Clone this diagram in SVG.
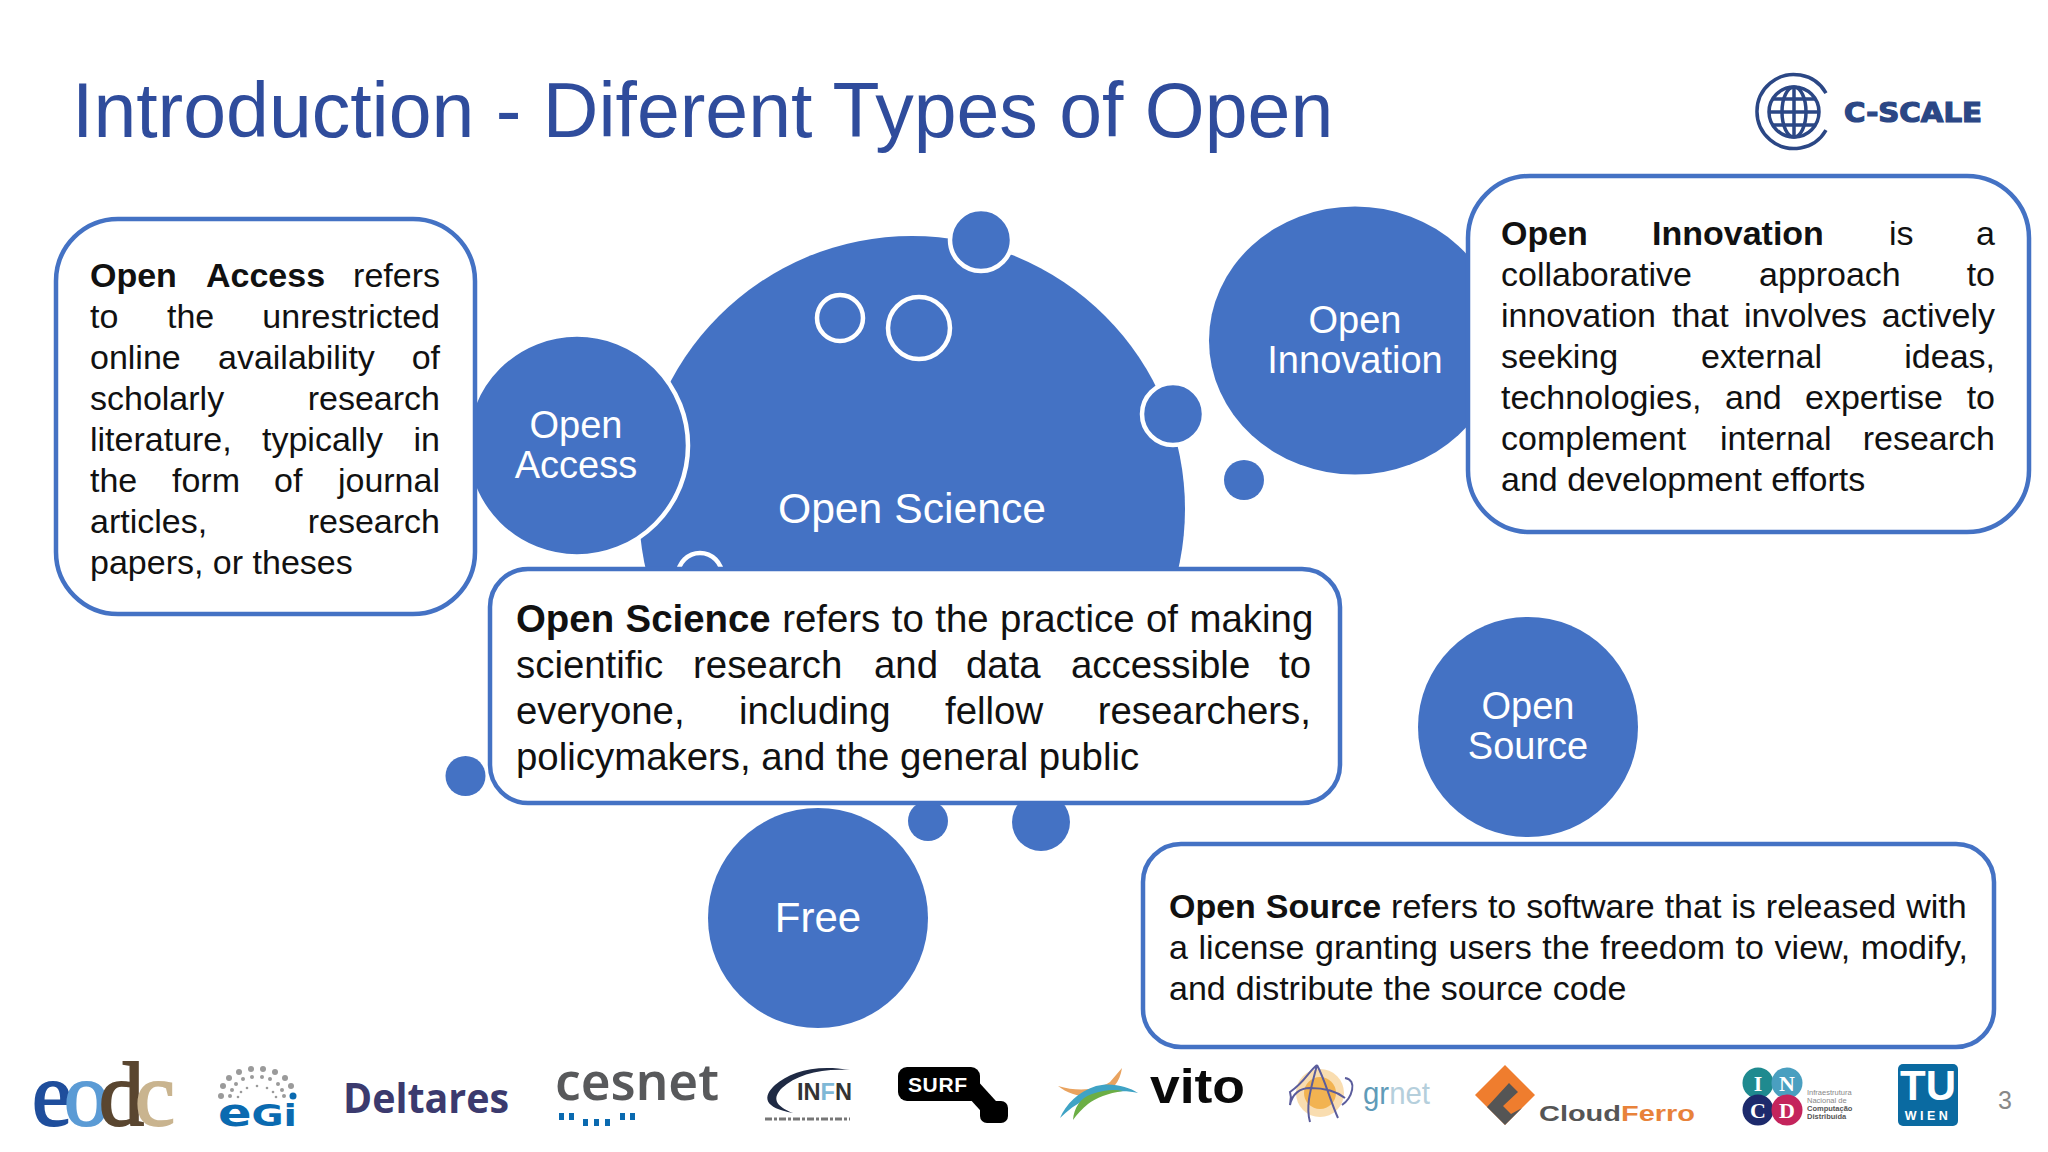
<svg xmlns="http://www.w3.org/2000/svg" width="2048" height="1152" viewBox="0 0 2048 1152">
<style>
text{font-family:"Liberation Sans",Arial,sans-serif}
.c{fill:#4472C4}
.w{fill:#4472C4;stroke:#fff;stroke-width:4.5}
.h{fill:none;stroke:#fff;stroke-width:4.5}
.b{fill:#fff;stroke:#4472C4;stroke-width:4.5}
.l{fill:#fff;text-anchor:middle}
.t32{font-size:34px;fill:#111}
.t38{font-size:38.4px;fill:#111}
.e{text-anchor:end}
.s{font-weight:700}
</style>
<rect width="2048" height="1152" fill="#fff"/>
<text x="72" y="136.500" font-size="77" fill="#2F4C9C" id="title">Introduction - Diferent Types of Open</text>
<g id="logo-cscale">
<path d="M1826 93A37 37 0 1 0 1826 130" fill="none" stroke="#2b4785" stroke-width="3.5"/>
<g fill="none" stroke="#2b4785" stroke-width="3.5"><circle cx="1794" cy="112" r="25"/><ellipse cx="1794" cy="112" rx="12" ry="25"/><path d="M1794 87V137M1769 112H1819M1773 99H1815M1773 125H1815"/></g>
<text x="1844" y="122" font-size="26" font-weight="700" fill="#2b4785" stroke="#2b4785" stroke-width="1.2" textLength="138" lengthAdjust="spacingAndGlyphs" style="font-family:'DejaVu Sans',sans-serif">C-SCALE</text>
</g>
<g id="open-science">
<circle class="c" cx="912" cy="509" r="273"/>
<circle class="h" cx="840" cy="318" r="23"/>
<circle class="h" cx="919" cy="328" r="31"/>
<circle class="h" cx="700" cy="575" r="22"/>
<circle class="w" cx="981" cy="240" r="31"/>
<circle class="w" cx="1173" cy="414" r="31"/>
<text class="l" x="912" y="522.500" font-size="42.7">Open Science</text>
</g>
<g id="bubbles">
<circle class="c" cx="1244" cy="480" r="20"/>
<circle class="c" cx="465.500" cy="776" r="20"/>
<circle class="c" cx="928" cy="821" r="20"/>
<circle class="c" cx="1041" cy="822" r="29"/>
</g>
<g id="open-access">
<circle class="w" cx="577" cy="445.500" r="111"/>
<text class="l" x="576" y="438" font-size="38">Open</text>
<text class="l" x="576" y="478" font-size="38">Access</text>
</g>
<g id="open-innovation">
<ellipse class="c" cx="1355" cy="340.500" rx="146" ry="134"/>
<text class="l" x="1355" y="333" font-size="38">Open</text>
<text class="l" x="1355" y="373" font-size="38">Innovation</text>
</g>
<g id="open-source">
<circle class="c" cx="1528" cy="727" r="110"/>
<text class="l" x="1528" y="719" font-size="38">Open</text>
<text class="l" x="1528" y="759" font-size="38">Source</text>
</g>
<g id="free">
<circle class="c" cx="818" cy="918" r="110"/>
<text class="l" x="818" y="932" font-size="42">Free</text>
</g>
<g id="box-open-access">
<rect class="b" x="56" y="219" width="419" height="395" rx="62"/>
<text class="t32" y="287"><tspan class="s" x="90">Open</tspan><tspan class="s" x="206">Access</tspan><tspan class="e" x="440">refers</tspan></text>
<text class="t32" y="328"><tspan x="90">to</tspan><tspan x="167">the</tspan><tspan class="e" x="440">unrestricted</tspan></text>
<text class="t32" y="369"><tspan x="90">online</tspan><tspan x="218">availability</tspan><tspan class="e" x="440">of</tspan></text>
<text class="t32" y="410"><tspan x="90">scholarly</tspan><tspan class="e" x="440">research</tspan></text>
<text class="t32" y="451"><tspan x="90">literature,</tspan><tspan x="262">typically</tspan><tspan class="e" x="440">in</tspan></text>
<text class="t32" y="492"><tspan x="90">the</tspan><tspan x="172">form</tspan><tspan x="274">of</tspan><tspan class="e" x="440">journal</tspan></text>
<text class="t32" y="533"><tspan x="90">articles,</tspan><tspan class="e" x="440">research</tspan></text>
<text class="t32" x="90" y="574">papers, or theses</text>
</g>
<g id="box-open-innovation">
<rect class="b" x="1468" y="176" width="561" height="356" rx="62"/>
<text class="t32" y="245"><tspan class="s" x="1501">Open</tspan><tspan class="s" x="1652">Innovation</tspan><tspan x="1889">is</tspan><tspan class="e" x="1995">a</tspan></text>
<text class="t32" y="286"><tspan x="1501">collaborative</tspan><tspan x="1759">approach</tspan><tspan class="e" x="1995">to</tspan></text>
<text class="t32" y="327"><tspan x="1501">innovation</tspan><tspan x="1672">that</tspan><tspan x="1744">involves</tspan><tspan class="e" x="1995">actively</tspan></text>
<text class="t32" y="368"><tspan x="1501">seeking</tspan><tspan x="1701">external</tspan><tspan class="e" x="1995">ideas,</tspan></text>
<text class="t32" y="409"><tspan x="1501">technologies,</tspan><tspan x="1725">and</tspan><tspan x="1805">expertise</tspan><tspan class="e" x="1995">to</tspan></text>
<text class="t32" y="450"><tspan x="1501">complement</tspan><tspan x="1720">internal</tspan><tspan class="e" x="1995">research</tspan></text>
<text class="t32" x="1501" y="491">and development efforts</text>
</g>
<g id="box-open-science">
<rect class="b" x="490" y="569" width="850" height="234" rx="38"/>
<text class="t38" x="516" y="632" word-spacing="0.800"><tspan class="s">Open Science</tspan> refers to the practice of making</text>
<text class="t38" y="678"><tspan x="516">scientific</tspan><tspan x="693">research</tspan><tspan x="874">and</tspan><tspan x="966">data</tspan><tspan x="1071">accessible</tspan><tspan class="e" x="1311">to</tspan></text>
<text class="t38" y="724"><tspan x="516">everyone,</tspan><tspan x="739">including</tspan><tspan x="945">fellow</tspan><tspan class="e" x="1311">researchers,</tspan></text>
<text class="t38" x="516" y="770">policymakers, and the general public</text>
</g>
<g id="box-open-source">
<rect class="b" x="1143" y="844" width="851" height="203" rx="38"/>
<text class="t32" x="1169" y="918" word-spacing="0.500"><tspan class="s">Open Source</tspan> refers to software that is released with</text>
<text class="t32" x="1169" y="959" word-spacing="1.200">a license granting users the freedom to view, modify,</text>
<text class="t32" x="1169" y="1000" word-spacing="0.500">and distribute the source code</text>
</g>
<g id="logo-eodc">
<text y="1125" font-size="90" stroke-width="2" style="font-family:'Liberation Serif',serif"><tspan x="32" fill="#1f4e9c" stroke="#1f4e9c">e</tspan><tspan x="64" fill="#5b9bd5" stroke="#5b9bd5">o</tspan><tspan x="99" fill="#5a4630" stroke="#5a4630">d</tspan><tspan x="135" fill="#c9b48f" stroke="#c9b48f">c</tspan></text>
</g>
<g id="logo-egi">
<g fill="#9a9a9a"><circle cx="221" cy="1096" r="3"/><circle cx="223" cy="1086" r="3"/><circle cx="229" cy="1078" r="3"/><circle cx="239" cy="1072" r="3"/><circle cx="251" cy="1069" r="3"/><circle cx="263" cy="1069" r="3"/><circle cx="275" cy="1072" r="3"/><circle cx="285" cy="1078" r="3"/><circle cx="291" cy="1086" r="3"/><circle cx="230" cy="1096" r="2"/><circle cx="232" cy="1090" r="2"/><circle cx="236" cy="1084" r="2"/><circle cx="243" cy="1079" r="2"/><circle cx="252" cy="1077" r="2"/><circle cx="262" cy="1077" r="2"/><circle cx="270" cy="1079" r="2"/><circle cx="278" cy="1084" r="2"/><circle cx="282" cy="1090" r="2"/><circle cx="284" cy="1096" r="2"/><circle cx="238" cy="1097" r="1.300"/><circle cx="241" cy="1092" r="1.300"/><circle cx="247" cy="1088" r="1.300"/><circle cx="257" cy="1086" r="1.300"/><circle cx="267" cy="1088" r="1.300"/><circle cx="273" cy="1092" r="1.300"/><circle cx="276" cy="1097" r="1.300"/></g>
<circle cx="293" cy="1096" r="3.500" fill="#0a6ab0"/>
<text x="218" y="1126" font-size="30" font-weight="700" fill="#0a6ab0" textLength="79" lengthAdjust="spacingAndGlyphs" style="font-family:'DejaVu Sans',sans-serif"><tspan font-size="38">e</tspan>Gi</text>
</g>
<g id="logo-deltares"><text x="343" y="1113" font-size="42" font-weight="700" fill="#3b3a6e" textLength="166" lengthAdjust="spacingAndGlyphs" style="font-family:'Open Sans',sans-serif">Deltares</text></g>
<g id="logo-cesnet"><text x="555" y="1100" font-size="50" font-weight="600" fill="#58595b" textLength="164" lengthAdjust="spacingAndGlyphs" style="font-family:'Noto Sans',sans-serif">cesnet</text>
<path d="M559 1113h5v7h-5zM569 1113h5v7h-5zM583 1119h5v7h-5zM594 1119h5v7h-5zM605 1119h5v7h-5zM620 1113h5v7h-5zM630 1113h5v7h-5z" fill="#0a6ab0"/></g>
<g id="logo-infn"><path d="M850 1070C815 1064 790 1072 775 1085C762 1097 764 1108 793 1113C775 1106 772 1098 782 1088C796 1075 820 1068 850 1070Z" fill="#1f2a44"/><text x="797" y="1100" font-size="24" font-weight="700" fill="#333" textLength="55" lengthAdjust="spacingAndGlyphs">IN<tspan fill="#7fb8d6">F</tspan>N</text><path d="M765 1119H850" stroke="#777" stroke-width="3" stroke-dasharray="7 2 3 2"/></g>
<g id="logo-surf"><rect x="898" y="1067" width="82" height="34" rx="9" fill="#000"/><path d="M972 1088L992 1110" stroke="#000" stroke-width="18"/><rect x="980" y="1101" width="28" height="22" rx="7" fill="#000"/><text x="908" y="1092" font-size="21" font-weight="700" fill="#fff" textLength="59" lengthAdjust="spacing">SURF</text></g>
<g id="logo-vito"><path d="M1058 1086C1078 1092 1098 1090 1110 1082L1122 1068C1120 1082 1112 1092 1098 1096C1082 1098 1068 1094 1058 1086Z" fill="#e9a35f"/><path d="M1060 1118C1066 1104 1078 1092 1096 1086C1110 1082 1128 1086 1138 1093C1122 1089 1100 1092 1085 1100C1076 1104 1068 1110 1060 1118Z" fill="#3fa3c5"/><path d="M1073 1120C1074 1108 1080 1098 1092 1094C1104 1090 1114 1089 1123 1091C1108 1093 1096 1098 1088 1104C1082 1109 1077 1114 1073 1120Z" fill="#6cae45"/><text x="1150" y="1103" font-size="48" font-weight="700" fill="#0a0a0a" textLength="95" lengthAdjust="spacingAndGlyphs">vito</text></g>
<g id="logo-grnet"><circle cx="1320" cy="1093" r="24" fill="#f6cf8f" opacity=".7"/><circle cx="1320" cy="1093" r="16" fill="#f0a93a" opacity=".8"/><path d="M1317 1065C1308 1072 1305 1082 1290 1092C1292 1098 1290 1102 1290 1105C1292 1094 1300 1088 1310 1088C1322 1088 1335 1090 1345 1098M1317 1065C1325 1080 1330 1100 1338 1118M1317 1065C1312 1085 1305 1105 1310 1122M1345 1078C1358 1080 1352 1098 1342 1105" fill="none" stroke="#5b5d9c" stroke-width="2"/><text x="1363" y="1104" font-size="32" textLength="67" lengthAdjust="spacingAndGlyphs" fill="#b5cfdc"><tspan fill="#5f9bb8">gr</tspan>net</text></g>
<g id="logo-cloudferro"><path d="M1505 1065L1535 1095L1505 1125L1475 1095Z" fill="#ef7d2e"/><path d="M1487 1107L1509 1083L1518 1092L1503 1106L1511 1114L1522 1108L1505 1125Z" fill="#555"/><text x="1539" y="1121" font-size="22" font-weight="700" fill="#555" textLength="156" lengthAdjust="spacingAndGlyphs">Cloud<tspan fill="#e8823a">Ferro</tspan></text></g>
<g id="logo-incd"><circle cx="1758" cy="1083" r="15.500" fill="#1f8a8f"/><circle cx="1787" cy="1083" r="15.500" fill="#4a9fc0"/><circle cx="1758" cy="1110" r="15.500" fill="#1d2a6c"/><circle cx="1787" cy="1110" r="15.500" fill="#c4245c"/>
<g fill="#fff" font-weight="700" font-size="22" text-anchor="middle"><text x="1758" y="1091" style="font-family:'Liberation Serif',serif">I</text><text x="1787" y="1091" style="font-family:'Liberation Serif',serif">N</text><text x="1758" y="1118" style="font-family:'Liberation Serif',serif">C</text><text x="1787" y="1118" style="font-family:'Liberation Serif',serif">D</text></g>
<g fill="#555" font-size="7.500"><text x="1807" y="1095" fill="#888">Infraestrutura</text><text x="1807" y="1103" fill="#888">Nacional de</text><text x="1807" y="1111" font-weight="700">Computação</text><text x="1807" y="1119" font-weight="700">Distribuída</text></g></g>
<g id="logo-tuwien"><rect x="1898" y="1064" width="60" height="62" rx="5" fill="#0a6aa1"/><text x="1928" y="1100" font-size="42" font-weight="700" fill="#fff" text-anchor="middle">TU</text><text x="1928" y="1120" font-size="12.500" font-weight="700" fill="#fff" text-anchor="middle" letter-spacing="3.500">WIEN</text></g>
<text id="page" x="2005" y="1109" font-size="25" fill="#888" text-anchor="middle">3</text>
</svg>
